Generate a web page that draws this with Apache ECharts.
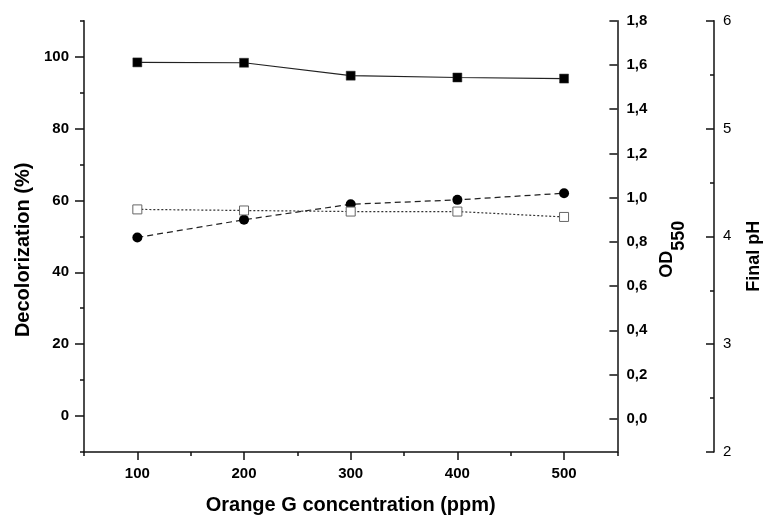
<!DOCTYPE html>
<html>
<head>
<meta charset="utf-8">
<script src="https://cdn.jsdelivr.net/npm/echarts@6/dist/echarts.min.js"></script>
<style>
html,body{margin:0;padding:0;background:#fff;}
#c{width:771px;height:520px;}
</style>
</head>
<body>
<div id="c"></div>
<script>
// ---- data ----
var concentrations = [100, 200, 300, 400, 500];
var decolorization = [98.4, 98.3, 94.7, 94.2, 93.9];
var od550 = [0.82, 0.90, 0.97, 0.99, 1.02];
var finalPH = [4.25, 4.24, 4.23, 4.23, 4.18];
var xTickLabels = [100, 200, 300, 400, 500];
var decoTickLabels = [0, 20, 40, 60, 80, 100];
var odTickLabels = [0, 0.2, 0.4, 0.6, 0.8, 1.0, 1.2, 1.4, 1.6, 1.8];
var phTickLabels = [2, 3, 4, 5, 6];

function pairs(xs, ys) { return xs.map(function (x, i) { return [x, ys[i]]; }); }

var FONT = "'Liberation Sans', Arial, sans-serif";
var AX = { onZero: false, lineStyle: { color: '#111', width: 1.5 } };
var NOAX = { show: false, onZero: false };
var TICK = { color: '#111', width: 1.5 };

var chart = echarts.init(document.getElementById('c'), null, { renderer: 'canvas' });
chart.setOption({
  animation: false,
  backgroundColor: '#fff',
  textStyle: { fontFamily: FONT },
  grid: { left: 84, right: 149.3, top: 20.7, bottom: 65, containLabel: false },
  xAxis: [
    {
      type: 'value', min: 50, max: 550, interval: 50, position: 'bottom',
      name: 'Orange G concentration (ppm)', nameLocation: 'middle', nameGap: 43,
      nameTextStyle: { fontFamily: FONT, fontWeight: 'bold', fontSize: 20, color: '#000' },
      axisLine: AX,
      axisTick: { show: true, length: 4, lineStyle: TICK },
      axisLabel: { customValues: xTickLabels, margin: 14, fontFamily: FONT, fontWeight: 'bold', fontSize: 15, color: '#000' },
      splitLine: { show: false }
    },
    {
      type: 'value', min: 50, max: 550, position: 'bottom',
      axisLine: NOAX,
      axisTick: { show: true, customValues: xTickLabels, length: 8, lineStyle: TICK },
      axisLabel: { show: false },
      splitLine: { show: false }
    }
  ],
  yAxis: [
    {
      type: 'value', min: -10, max: 110, interval: 10, position: 'left',
      name: 'Decolorization (%)', nameLocation: 'middle', nameGap: 51, nameRotate: 90,
      nameTextStyle: { fontFamily: FONT, fontWeight: 'bold', fontSize: 20, color: '#000', padding: [0, 27, 0, 0] },
      axisLine: AX,
      axisTick: { show: true, length: 4, lineStyle: TICK },
      axisLabel: { customValues: decoTickLabels, margin: 15, fontFamily: FONT, fontWeight: 'bold', fontSize: 15, color: '#000' },
      splitLine: { show: false }
    },
    {
      type: 'value', min: -10, max: 110, position: 'left',
      axisLine: NOAX,
      axisTick: { show: true, customValues: decoTickLabels, length: 9, lineStyle: TICK },
      axisLabel: { show: false },
      splitLine: { show: false }
    },
    {
      type: 'value', min: -0.15, max: 1.8, position: 'right', offset: 0,
      name: '{a|OD}{b|550}', nameLocation: 'middle', nameGap: 40, nameRotate: 90,
      nameTextStyle: {
        padding: [0, 26, 0, 0],
        rich: {
          a: { fontFamily: FONT, fontWeight: 'bold', fontSize: 18, color: '#000', verticalAlign: 'bottom', padding: [0, 0, 12, 0] },
          b: { fontFamily: FONT, fontWeight: 'bold', fontSize: 18, color: '#000', verticalAlign: 'bottom' }
        }
      },
      axisLine: AX,
      axisTick: { show: true, inside: true, customValues: odTickLabels, length: 8, lineStyle: TICK },
      axisLabel: {
        customValues: odTickLabels, margin: 9, fontFamily: FONT, fontWeight: 'bold', fontSize: 15, color: '#000',
        formatter: function (v) { return v.toFixed(1).replace('.', ','); }
      },
      splitLine: { show: false }
    },
    {
      type: 'value', min: 2, max: 6, interval: 0.5, position: 'right', offset: 96.6,
      name: 'Final pH', nameLocation: 'middle', nameGap: 31, nameRotate: 90,
      nameTextStyle: { fontFamily: FONT, fontWeight: 'bold', fontSize: 18, color: '#000', padding: [0, 40, 0, 0] },
      axisLine: AX,
      axisTick: { show: true, inside: true, length: 4, lineStyle: TICK },
      axisLabel: { customValues: phTickLabels, margin: 9, fontFamily: FONT, fontSize: 15, color: '#000' },
      splitLine: { show: false }
    },
    {
      type: 'value', min: 2, max: 6, position: 'right', offset: 96.6,
      axisLine: NOAX,
      axisTick: { show: true, inside: true, customValues: phTickLabels, length: 8, lineStyle: TICK },
      axisLabel: { show: false },
      splitLine: { show: false }
    }
  ],
  series: [
    {
      name: 'Decolorization', type: 'line', xAxisIndex: 0, yAxisIndex: 0,
      data: pairs(concentrations, decolorization),
      symbol: 'rect', symbolSize: 9,
      itemStyle: { color: '#000', borderColor: '#333', borderWidth: 0.5 },
      lineStyle: { color: '#222', width: 1.2, type: 'solid' }
    },
    {
      name: 'OD550', type: 'line', xAxisIndex: 0, yAxisIndex: 2,
      data: pairs(concentrations, od550),
      symbol: 'circle', symbolSize: 10,
      itemStyle: { color: '#000' },
      lineStyle: { color: '#222', width: 1.2, type: [6, 4] }
    },
    {
      name: 'Final pH', type: 'line', xAxisIndex: 0, yAxisIndex: 4,
      data: pairs(concentrations, finalPH),
      symbol: 'rect', symbolSize: 9,
      itemStyle: { color: '#fff', borderColor: '#666', borderWidth: 1 },
      lineStyle: { color: '#333', width: 1.2, type: [2, 2] }
    }
  ]
});
</script>
</body>
</html>
